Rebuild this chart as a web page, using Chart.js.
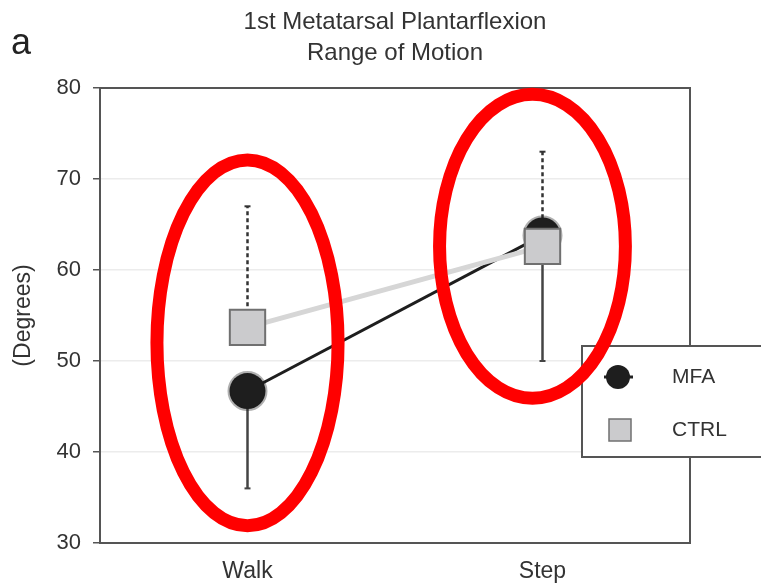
<!DOCTYPE html>
<html>
<head>
<meta charset="utf-8">
<script src="https://cdn.jsdelivr.net/npm/chart.js@4"></script>
<style>
  html, body { margin: 0; padding: 0; background: #fff; }
  #wrap { width: 761px; height: 583px; }
</style>
</head>
<body>
<div id="wrap"><canvas id="rom"></canvas></div>
<script>
// values
const conditions = ['Walk', 'Step'];
const mfaMean = [46.7, 63.8];
const ctrlMean = [53.7, 62.6];
const mfaLow = [36, 50];     // solid lower whiskers (MFA)
const ctrlHigh = [67, 73];   // dashed upper whiskers (CTRL)
const yTicks = [30, 40, 50, 60, 70, 80];

// red highlight rings: centre category offset / value, half widths in category / value units
const rings = [
  { cat: 0.0, val: 52.0, rx: 0.307, ry: 20.1 },
  { cat: 0.966, val: 62.6, rx: 0.315, ry: 16.7 }
];

const FONT = '"Liberation Sans", Arial, sans-serif';
const TEXT = '#333';

const framePlugin = {
  id: 'frame',
  beforeDatasetsDraw(chart) {
    const { ctx, chartArea: a, scales: { x, y } } = chart;
    ctx.save();
    // top + right border of the plot box
    ctx.strokeStyle = '#555';
    ctx.lineWidth = 2;
    ctx.beginPath();
    ctx.moveTo(a.left, a.top);
    ctx.lineTo(a.right, a.top);
    ctx.lineTo(a.right, a.bottom);
    ctx.stroke();

    // error bars, behind the markers
    const whisker = (i, from, to, dashed) => {
      const px = x.getPixelForValue(i);
      const p1 = y.getPixelForValue(from);
      const p2 = y.getPixelForValue(to);
      ctx.strokeStyle = dashed ? '#333' : '#444';
      ctx.lineWidth = 2.5;
      ctx.setLineDash(dashed ? [4, 3] : []);
      ctx.beginPath();
      ctx.moveTo(px, p1);
      ctx.lineTo(px, p2);
      ctx.stroke();
      ctx.setLineDash([]);
      ctx.lineWidth = 2;
      ctx.beginPath();
      ctx.moveTo(px - 3, p2);
      ctx.lineTo(px + 3, p2);
      ctx.stroke();
    };
    conditions.forEach((c, i) => {
      whisker(i, mfaMean[i], mfaLow[i], false);
      whisker(i, ctrlMean[i], ctrlHigh[i], true);
    });
    ctx.restore();
  },
  afterDraw(chart) {
    const { ctx, chartArea: a, scales: { x, y } } = chart;
    ctx.save();

    // panel letter
    ctx.fillStyle = '#222';
    ctx.font = '36px ' + FONT;
    ctx.textBaseline = 'middle';
    ctx.textAlign = 'left';
    ctx.fillText('a', 11, 44);

    // legend box, overlapping the right edge
    const lx = a.right - 108, ly = a.top + 258;
    ctx.fillStyle = '#fff';
    ctx.fillRect(lx, ly, 200, 111);
    ctx.strokeStyle = '#555';
    ctx.lineWidth = 2;
    ctx.strokeRect(lx, ly, 200, 111);

    ctx.strokeStyle = '#222';
    ctx.lineWidth = 3;
    ctx.beginPath();
    ctx.moveTo(lx + 22, ly + 31);
    ctx.lineTo(lx + 51, ly + 31);
    ctx.stroke();
    ctx.fillStyle = '#1e1e1e';
    ctx.beginPath();
    ctx.arc(lx + 36, ly + 31, 12, 0, Math.PI * 2);
    ctx.fill();

    ctx.fillStyle = '#cbcbcd';
    ctx.strokeStyle = '#707070';
    ctx.lineWidth = 1.5;
    ctx.fillRect(lx + 27, ly + 73, 22, 22);
    ctx.strokeRect(lx + 27, ly + 73, 22, 22);

    ctx.fillStyle = TEXT;
    ctx.font = '21px ' + FONT;
    ctx.fillText('MFA', lx + 90, ly + 31);
    ctx.fillText('CTRL', lx + 90, ly + 84);

    // red rings on top of everything
    ctx.strokeStyle = '#ff0000';
    ctx.lineWidth = 13;
    rings.forEach(r => {
      const cx = x.getPixelForValue(r.cat);
      const cy = y.getPixelForValue(r.val);
      const rx = x.getPixelForValue(r.cat + r.rx) - cx;
      const ry = cy - y.getPixelForValue(r.val + r.ry);
      ctx.beginPath();
      ctx.ellipse(cx, cy, rx, ry, 0, 0, Math.PI * 2);
      ctx.stroke();
    });
    ctx.restore();
  }
};

new Chart(document.getElementById('rom'), {
  type: 'line',
  data: {
    labels: conditions,
    datasets: [
      {
        label: 'CTRL',
        data: ctrlMean,
        borderColor: '#d6d6d6',
        borderWidth: 5,
        pointStyle: 'rect',
        pointRadius: 25,
        pointBackgroundColor: '#cbcbcd',
        pointBorderColor: '#707070',
        pointBorderWidth: 2,
        order: 0
      },
      {
        label: 'MFA',
        data: mfaMean,
        borderColor: '#1e1e1e',
        borderWidth: 3,
        pointStyle: 'circle',
        pointRadius: 18,
        pointBackgroundColor: '#1e1e1e',
        pointBorderColor: 'rgba(30,30,30,0.35)',
        pointBorderWidth: 4,
        order: 1
      }
    ]
  },
  options: {
    responsive: true,
    maintainAspectRatio: false,
    animation: false,
    events: [],
    layout: { padding: { left: 0, right: 71, top: 0, bottom: 0 } },
    plugins: {
      legend: { display: false },
      tooltip: { enabled: false },
      title: {
        display: true,
        fullSize: false,
        text: ['1st Metatarsal Plantarflexion', 'Range of Motion'],
        color: TEXT,
        font: { family: FONT, size: 24, weight: 'normal', lineHeight: 31 / 24 },
        padding: { top: 7, bottom: 19 }
      }
    },
    scales: {
      x: {
        offset: true,
        grid: { display: false, drawTicks: false },
        border: { color: '#555', width: 2 },
        ticks: { color: TEXT, font: { family: FONT, size: 23 }, padding: 15 },
        afterFit(s) { s.height = 40; }
      },
      y: {
        min: 30,
        max: 80,
        afterBuildTicks(s) { s.ticks = yTicks.map(v => ({ value: v })); },
        grid: { color: '#ececec', lineWidth: 1.5, tickColor: '#555', tickLength: 7 },
        border: { color: '#555', width: 2 },
        ticks: { color: TEXT, font: { family: FONT, size: 22 }, padding: 12 },
        title: {
          display: true,
          text: '(Degrees)',
          color: TEXT,
          font: { family: FONT, size: 23 },
          padding: { top: 10, bottom: 0 }
        },
        afterFit(s) { s.width = 100; }
      }
    }
  },
  plugins: [framePlugin]
});
</script>
</body>
</html>
